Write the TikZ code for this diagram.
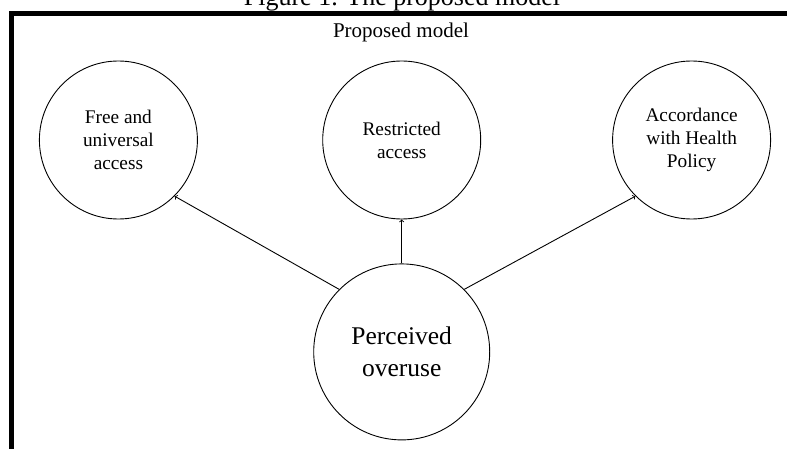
\documentclass[tikz,border=0pt]{standalone}
\usepackage{fontspec}
\setmainfont{Liberation Serif}
\usetikzlibrary{arrows,positioning}

\begin{document}
\begin{tikzpicture}[->,>=to,line width=0.9pt,x=1pt,y=-1pt,
  every node/.style={align=center},
  ring/.style={circle,draw,inner sep=0pt,minimum size=158pt,font=\fontsize{19.3}{23}\selectfont},
  bigring/.style={ring,minimum size=176pt,font=\fontsize{25.5}{32}\selectfont}]
  \useasboundingbox (0,0) rectangle (787,449);
  \draw[-,line width=5pt] (11.3,455) |- (795,13.5);
  \node (t) [anchor=base,font=\fontsize{26}{30}\selectfont] at (402,6) {Figure 1. The proposed model};
  \node (s) [anchor=base,font=\fontsize{21}{25}\selectfont] at (401,37.7) {Proposed model};
  \node (2) [ring] at (401.7,140) {Restricted\\access};
  \node (1) [ring,left=124.4pt of 2] {Free and\\universal\\access};
  \node (3) [ring,right=131pt of 2] {Accordance\\with Health\\Policy};
  \node (4) [bigring,below=44pt of 2] {Perceived\\overuse};
  \path (4.135) edge (1.-45);
  \path (4) edge (2);
  \path (4.45) edge (3.-135);
\end{tikzpicture}
\end{document}
